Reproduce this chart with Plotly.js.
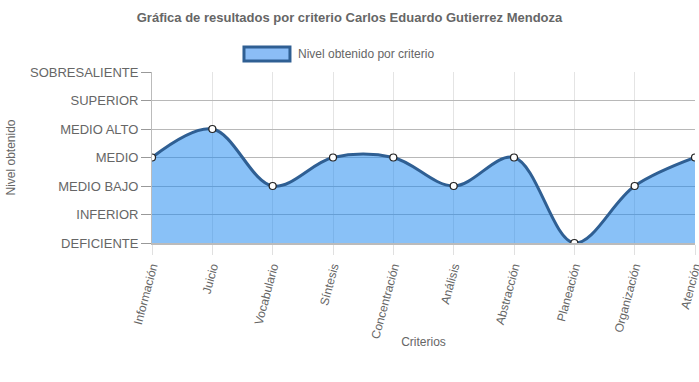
<!DOCTYPE html>
<html><head><meta charset="utf-8">
<script src="https://cdn.plot.ly/plotly-3.0.1.min.js"></script>
<style>html,body{margin:0;padding:0;background:#fff}#c{width:699px;height:382px}</style>
</head><body><div id="c"></div>
<script>
const criterios = ["Información","Juicio","Vocabulario","Síntesis","Concentración","Análisis","Abstracción","Planeación","Organización","Atención"];
const niveles = ["DEFICIENTE","INFERIOR","MEDIO BAJO","MEDIO","MEDIO ALTO","SUPERIOR","SOBRESALIENTE"];
const nivelObtenido = ["MEDIO","MEDIO ALTO","MEDIO BAJO","MEDIO","MEDIO","MEDIO BAJO","MEDIO","DEFICIENTE","MEDIO BAJO","MEDIO"];
const serieNombre = "Nivel obtenido por criterio";
const yVals = nivelObtenido.map(n => niveles.indexOf(n));
const font = "Liberation Sans, Arial, sans-serif";
const fillCol = "rgba(33,137,240,0.53)";
const lineCol = "#2f5f93";
const trace = {
  x: criterios, y: yVals, type: "scatter", mode: "lines+markers",
  name: serieNombre, showlegend: false,
  line: {shape: "spline", smoothing: 1, color: lineCol, width: 3},
  marker: {size: 7, color: "#ffffff", line: {color: "#222", width: 1.2}},
  fill: "tozeroy", fillcolor: fillCol
};
const layout = {
  width: 699, height: 382,
  margin: {l: 152, r: 4, t: 72, b: 139},
  paper_bgcolor: "#fff", plot_bgcolor: "#fff",
  font: {family: font, color: "#666", size: 12},
  title: {text: "<b>Gráfica de resultados por criterio Carlos Eduardo Gutierrez Mendoza</b>", x: 0.5, xanchor: "center", y: 0.955, yanchor: "middle", font: {size: 13, color: "#666", family: font}},
  showlegend: false,
  shapes: [{type: "rect", xref: "paper", yref: "paper", x0: 0.1694, x1: 0.2541, y0: 1.064, y1: 1.146,
            fillcolor: "#8bbdf6", line: {color: "#2f5f93", width: 3}}],
  annotations: [{text: serieNombre, xref: "paper", yref: "paper", x: 0.265, y: 1.105, xanchor: "left", yanchor: "middle",
                 showarrow: false, font: {size: 12, color: "#666"}}],
  xaxis: {
    type: "category", range: [0, criterios.length - 1],
    showgrid: true, gridcolor: "#e4e4e4", gridwidth: 1,
    ticks: "outside", ticklen: 10, tickcolor: "#e0e0e0",
    tickangle: -75, tickfont: {size: 12, color: "#666"},
    showline: true, linecolor: "#bbb", linewidth: 2,
    zeroline: false, automargin: false,
    title: {text: "Criterios", font: {size: 12, color: "#666"}, standoff: 0}
  },
  yaxis: {
    range: [0, niveles.length - 1],
    tickvals: niveles.map((n, i) => i), ticktext: niveles,
    showgrid: true, gridcolor: "#b8b8b8", gridwidth: 1,
    ticks: "outside", ticklen: 10, tickcolor: "#999",
    tickfont: {size: 13, color: "#666"},
    showline: true, linecolor: "#bbb", linewidth: 1,
    zeroline: false, automargin: false,
    title: {text: "Nivel obtenido", font: {size: 12, color: "#666"}, standoff: 16}
  }
};
Plotly.newPlot("c", [trace], layout, {displayModeBar: false, staticPlot: true}).then(() => {
  const t = document.querySelector(".xtitle");
  if (t) { const y = parseFloat(t.getAttribute("y")); t.setAttribute("y", y - 5); }
  const yt = document.querySelector(".ytitle");
  if (yt) { yt.setAttribute("transform", "translate(4,0) " + (yt.getAttribute("transform") || "")); }
});
</script></body></html>
